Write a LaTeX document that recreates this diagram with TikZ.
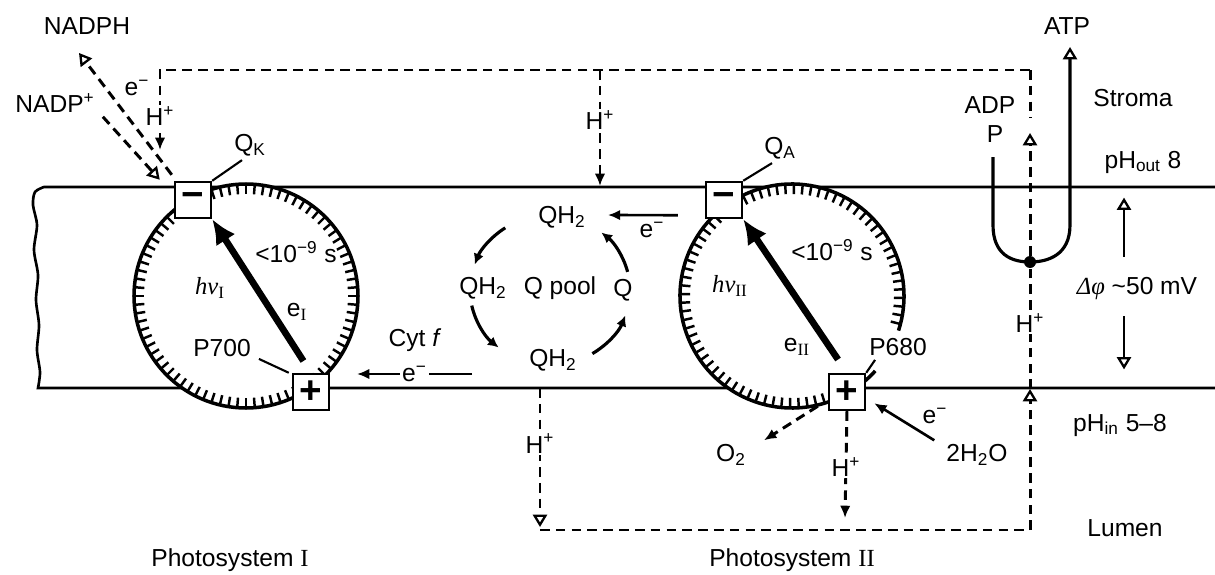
\documentclass[tikz,border=0pt]{standalone}
\usepackage{fontspec}
\setmainfont{Liberation Sans}
\newfontfamily\serifrm{Liberation Serif}
\usetikzlibrary{calc,arrows.meta}
\newcommand{\fs}{\fontsize{14}{16}\selectfont}
\newcommand{\up}[1]{\textsuperscript{#1}}
\newcommand{\dn}[1]{\textsubscript{#1}}
\newcommand{\rn}[1]{{\serifrm #1}}

\begin{document}
\begin{tikzpicture}[x=0.02cm,y=-0.02cm,font=\fs,
  membr/.style={line width=1.5pt},
  disc/.style={line width=2pt},
  tickm/.style={line width=1.4pt},
  pbox/.style={draw,line width=1.4pt,fill=white,minimum size=0.72cm,inner sep=0pt,
    font=\fontsize{22}{22}\selectfont\bfseries},
  hflow/.style={line width=1.7pt,dash pattern=on 5.5pt off 3.5pt},
  eline/.style={line width=1.5pt},
  ptr/.style={line width=1.2pt},
  ftip/.style={-{Latex[length=7pt,width=6pt]}},
  otip/.style={-{Triangle[open,length=7pt,width=8pt,line width=1.3pt]}},
  qarc/.style={line width=1.8pt,-{Latex[length=6pt,width=6pt]}},
  bigarrow/.style={line width=3.8pt,-{Latex[length=14pt,width=13pt]}},
  hlab/.style={fill=white,inner sep=1pt}]
  \useasboundingbox (0,0) rectangle (1215,575);

  % membrane with torn left edge
  \draw[membr] (1215,187) -- (44,187) -- plot[smooth] coordinates
    {(44,187) (35,192) (33,205) (37,225) (34,250) (38,275) (36,300) (39,325) (37,350) (40,372) (38,388)}
    -- (1215,388);

  % the two photosystems
  \coordinate (psI) at (246,296);
  \coordinate (psII) at (792,296);
  \fill[white] (psI) circle[radius=112];
  \fill[white] (psII) circle[radius=112];
  \draw[disc] (psI) circle[radius=112];
  \foreach \a in {0,4.5,...,355.5}
    \draw[tickm] ($(psI)+(\a:111)$) -- ($(psI)+(\a:102)$);
  \draw[disc] ($(psII)+(18:112)$) arc[start angle=18,end angle=-318,radius=112];
  \foreach \a in {-296,-291.5,...,16}
    \draw[tickm] ($(psII)+(\a:111)$) -- ($(psII)+(\a:102)$);

  % reaction centre boxes
  \node[pbox] (mI) at (193,200) {−};
  \node[pbox] (pI) at (311,392) {+};
  \node[pbox] (mII) at (724,200) {−};
  \node[pbox] (pII) at (847,392) {+};
  \draw[bigarrow,shorten <=0.28cm] (pI.north) -- (mI.south east);
  \draw[bigarrow,shorten <=0.32cm] (pII.north) -- (mII.south east);

  % Photosystem I labels
  \node (hvI) at (210,288) {{\serifrm\itshape hν}\dn{\rn{I}}};
  \node (tI) at (296,252) {<10\up{−9} s};
  \node (eI) at (297,312) {e\dn{\rn{I}}};
  \node (p700) at (222,348) {P700};
  \draw[ptr] ($(p700.south east)+(2,-4)$) -- ($(pI.north west)+(-3,0)$);
  \node (QK) at (250,145) {Q\dn{K}};
  \draw[ptr] ($(QK.south)+(-8,-2)$) -- (mI.north east);

  % Photosystem II labels
  \node (hvII) at (730,286) {{\serifrm\itshape hν}\dn{\rn{II}}};
  \node (tII) at (832,250) {<10\up{−9} s};
  \node (eII) at (797,347) {e\dn{\rn{II}}};
  \node (p680) at (898,347) {P680};
  \draw[ptr] ($(p680.south west)+(12,-2)$) -- (pII.north east);
  \node (QA) at (780,148) {Q\dn{A}};
  \draw[ptr] ($(QA.south)+(-8,-2)$) -- (mII.north east);

  % quinone pool
  \coordinate (ring) at (550,290);
  \node (QHt) at (562,217) {QH\dn{2}};
  \node (QHl) at (483,288) {QH\dn{2}};
  \node (pool) at (560,288) {Q pool};
  \node (Q) at (623,290) {Q};
  \node (QHb) at (553,360) {QH\dn{2}};
  \draw[qarc] ($(ring)+(-124:80 and 75)$) arc[start angle=-124,end angle=-160,x radius=80,y radius=75];
  \draw[qarc] ($(ring)+(168:80 and 75)$) arc[start angle=168,end angle=130,x radius=80,y radius=75];
  \draw[qarc] ($(ring)+(58:80 and 75)$) arc[start angle=58,end angle=20,x radius=80,y radius=75];
  \draw[qarc] ($(ring)+(-14:80 and 75)$) arc[start angle=-14,end angle=-50,x radius=80,y radius=75];
  \draw[eline,ftip] ($(mII.south west)+(-27,-4)$) -- ($(QHt.east)+(16,-2)$);
  \node (eQ) at (652,230) {e\up{−}};
  \node (cyt) at (415,340) {Cyt \textit{f}};
  \coordinate (cytR) at (472,374);
  \coordinate (cytL) at (357,374);
  \draw[eline,ftip] (cytR) -- node[hlab]{e\up{−}} (cytL);

  % NADP reduction
  \node (nadph) at (87,26) {NADPH};
  \node (nadpp) at (55,103) {NADP\up{+}};
  \coordinate (nadphT) at (79,53);
  \draw[hflow,otip] ($(mI.north west)+(-2,-6)$) -- (nadphT);
  \draw[hflow,otip] ($(nadpp.south east)+(2,-2)$) -- ($(mI.north west)+(-14,-1)$);
  \node (eN) at (137,88) {e\up{−}};

  % proton circuit
  \coordinate (hTL) at (160,70);
  \coordinate (hTM) at (600,70);
  \coordinate (hTR) at (1030,70);
  \coordinate (hBL) at (540,530);
  \coordinate (hBR) at (1030,530);
  \coordinate (hIn) at (160,150);
  \coordinate (hQ) at (600,186);
  \coordinate (hLm) at (540,388);
  \coordinate (hSyn) at (1030,389);
  \draw[hflow,ftip] (hTR) -- (hTL) -- node[hlab,pos=0.58]{H\up{+}} (hIn);
  \draw[hflow,ftip] (hTM) -- node[hlab,pos=0.43]{H\up{+}} (hQ);
  \draw[hflow,otip] (hLm) -- node[hlab,pos=0.4]{H\up{+}} (540,527);
  \draw[hflow] (hBL) -- (hBR);
  \draw[hflow,ftip] (pII.south) -- node[hlab,pos=0.52]{H\up{+}} (845,518);
  \node[circle,fill,inner sep=0pt,minimum size=0.24cm] (syn) at (1030,262) {};
  \draw[hflow] (hTR) -- (1030,118);
  \draw[hflow,otip] (syn) -- (1030,133);
  \draw[hflow,otip] (hBR) -- (hSyn);
  \draw[hflow] (hSyn) -- node[hlab,pos=0.55]{H\up{+}} (syn);

  % water splitting
  \node (O2) at (731,455) {O\dn{2}};
  \draw[hflow,ftip] ($(pII.south west)+(-10,-5)$) -- ($(O2.north east)+(12,2)$);
  \node (H2O) at (977,455) {2H\dn{2}O};
  \draw[eline,ftip] ($(H2O.north west)+(-6,2)$) -- ($(pII.south east)+(8,-8)$);
  \node (eW) at (935,416) {e\up{−}};

  % ATP synthase
  \node (atp) at (1067,26) {ATP};
  \node (adp) at (990,105) {ADP};
  \node (pi) at (995,134) {P};
  \draw[line width=1.8pt,otip] (993,157) -- (993,225) .. controls (993,255) and (1012,262) .. (syn.center)
    .. controls (1048,262) and (1070,255) .. (1070,225) -- (1070,47);

  % compartments
  \node (stroma) at (1133,98) {Stroma};
  \node (phout) at (1143,162) {pH\dn{out} 8};
  \node (dphi) at (1137,289) {{\serifrm\itshape Δφ} \textasciitilde50 mV};
  \draw[eline,otip] ($(dphi.north)+(-13,-15)$) -- ++(0,-59);
  \draw[eline,otip] ($(dphi.south)+(-13,10)$) -- ++(0,53);
  \node (phin) at (1120,425) {pH\dn{in} 5–8};
  \node (lumen) at (1125,528) {Lumen};
  \node (labI) at (230,560) {Photosystem \rn{I}};
  \node (labII) at (792,560) {Photosystem \rn{II}};
\end{tikzpicture}
\end{document}
